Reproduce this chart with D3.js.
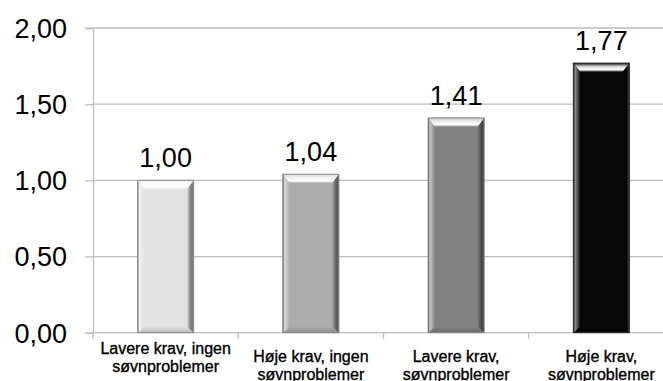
<!DOCTYPE html>
<html>
<head>
<meta charset="utf-8">
<script src="https://cdn.jsdelivr.net/npm/d3@7"></script>
<style>
  html, body { margin: 0; padding: 0; background: #fff; }
  svg { display: block; }
</style>
</head>
<body>
<script>
// ---- data ----
const categories = [
  ["Lavere krav, ingen", "søvnproblemer"],
  ["Høje krav, ingen", "søvnproblemer"],
  ["Lavere krav,", "søvnproblemer"],
  ["Høje krav,", "søvnproblemer"]
];
const values = [1.00, 1.04, 1.41, 1.77];
const yTicks = [0, 0.5, 1.0, 1.5, 2.0];

// ---- styles ----
const faceColors = ["#e2e2e2", "#acacac", "#828282", "#070707"];
const W = 663, H = 381;
const margin = { left: 93, top: 28, bottom: 332.7, right: 674 };
const gridColor = "#bdbdbd";

const locale = d3.formatLocale({ decimal: ",", thousands: " ", grouping: [3], currency: ["", " kr"] });
const fmt = locale.format(".2f");

const svg = d3.select("body").append("svg").attr("width", W).attr("height", H);
const defs = svg.append("defs");

const x = d3.scaleBand().domain(d3.range(categories.length))
  .range([margin.left, margin.right]).paddingInner(0.614).paddingOuter(0.307);
const y = d3.scaleLinear().domain([0, 2]).range([margin.bottom, margin.top]);

// gridlines
svg.append("g").selectAll("line").data(yTicks.filter(d => d > 0)).join("line")
  .attr("x1", margin.left).attr("x2", margin.right)
  .attr("y1", d => y(d)).attr("y2", d => y(d))
  .attr("stroke", gridColor).attr("stroke-width", 1.3);

// y axis
const yAxis = svg.append("g").attr("transform", `translate(${margin.left},0)`)
  .call(d3.axisLeft(y).tickValues(yTicks).tickFormat(fmt).tickSize(8).tickPadding(18));
yAxis.select(".domain").attr("stroke", gridColor).attr("stroke-width", 1.3);
yAxis.selectAll(".tick line").attr("stroke", gridColor).attr("stroke-width", 1.3);
yAxis.selectAll(".tick text")
  .attr("font-family", "Liberation Sans, Arial, sans-serif")
  .attr("font-size", 27).attr("fill", "#000").attr("dy", "0.35em");

// x axis line + boundary ticks
svg.append("line").attr("x1", margin.left).attr("x2", margin.right)
  .attr("y1", y(0)).attr("y2", y(0)).attr("stroke", gridColor).attr("stroke-width", 1.3);
const bounds = d3.range(categories.length + 1).map(i => margin.left + i * x.step());
svg.append("g").selectAll("line").data(bounds).join("line")
  .attr("x1", d => d).attr("x2", d => d)
  .attr("y1", y(0)).attr("y2", y(0) + 6)
  .attr("stroke", gridColor).attr("stroke-width", 1.3);

// bars with bevel
const bw = 7, bt = 9, bb = 6;
values.forEach((v, i) => {
  const face = faceColors[i];
  const light = d3.interpolateRgb(face, "#ffffff")(0.55);
  const veryLight = d3.interpolateRgb(face, "#ffffff")(0.85);
  const dark = d3.interpolateRgb(face, "#000000")(0.45);
  const bottomC = d3.interpolateRgb(face, "#000000")(0.18);
  const x0 = x(i), x1 = x(i) + x.bandwidth(), y0 = y(v), y1 = y(0);
  const g = svg.append("g");

  const gl = defs.append("linearGradient").attr("id", "gl" + i).attr("x1", 0).attr("x2", 1).attr("y1", 0).attr("y2", 0);
  gl.append("stop").attr("offset", 0).attr("stop-color", dark);
  gl.append("stop").attr("offset", 0.25).attr("stop-color", light);
  gl.append("stop").attr("offset", 1).attr("stop-color", face);
  const gr = defs.append("linearGradient").attr("id", "gr" + i).attr("x1", 0).attr("x2", 1).attr("y1", 0).attr("y2", 0);
  gr.append("stop").attr("offset", 0).attr("stop-color", face);
  gr.append("stop").attr("offset", 0.6).attr("stop-color", dark);
  gr.append("stop").attr("offset", 1).attr("stop-color", i === 3 ? "#444" : dark);
  const gt = defs.append("linearGradient").attr("id", "gt" + i).attr("x1", 0).attr("x2", 0).attr("y1", 0).attr("y2", 1);
  gt.append("stop").attr("offset", 0).attr("stop-color", i === 3 ? "#111" : light);
  gt.append("stop").attr("offset", 0.4).attr("stop-color", veryLight);
  gt.append("stop").attr("offset", 0.75).attr("stop-color", "#ffffff");
  gt.append("stop").attr("offset", 1).attr("stop-color", face);
  const gb = defs.append("linearGradient").attr("id", "gb" + i).attr("x1", 0).attr("x2", 0).attr("y1", 0).attr("y2", 1);
  gb.append("stop").attr("offset", 0).attr("stop-color", face);
  gb.append("stop").attr("offset", 1).attr("stop-color", bottomC);

  g.append("rect").attr("x", x0).attr("y", y0).attr("width", x1 - x0).attr("height", y1 - y0)
    .attr("fill", face);
  g.append("polygon").attr("points", [[x0, y1], [x1, y1], [x1 - bw, y1 - bb], [x0 + bw, y1 - bb]].join(" "))
    .attr("fill", `url(#gb${i})`);
  g.append("polygon").attr("points", [[x0, y0], [x0 + bw, y0 + bt], [x0 + bw, y1 - bb], [x0, y1]].join(" "))
    .attr("fill", `url(#gl${i})`);
  g.append("polygon").attr("points", [[x1, y0], [x1 - bw, y0 + bt], [x1 - bw, y1 - bb], [x1, y1]].join(" "))
    .attr("fill", `url(#gr${i})`);
  g.append("polygon").attr("points", [[x0, y0], [x1, y0], [x1 - bw, y0 + bt], [x0 + bw, y0 + bt]].join(" "))
    .attr("fill", `url(#gt${i})`);
  g.append("rect").attr("x", x0).attr("y", y0).attr("width", x1 - x0).attr("height", y1 - y0)
    .attr("fill", "none").attr("stroke", i === 3 ? "#333" : "#8a8a8a").attr("stroke-width", 1);
});

// value labels
svg.append("g").selectAll("text").data(values).join("text")
  .attr("x", (d, i) => x(i) + x.bandwidth() / 2)
  .attr("y", d => y(d) - 13)
  .attr("text-anchor", "middle")
  .attr("font-family", "Liberation Sans, Arial, sans-serif")
  .attr("font-size", 27).attr("fill", "#000")
  .text(d => fmt(d));

// category labels
const cl = svg.append("g").selectAll("text").data(categories).join("text")
  .attr("text-anchor", "middle")
  .attr("font-family", "Liberation Sans, Arial, sans-serif")
  .attr("font-size", 16).attr("fill", "#000")
  .attr("stroke", "#000").attr("stroke-width", 0.35)
  .attr("transform", (d, i) => `translate(${x(i) + x.bandwidth() / 2},${i === 0 ? 354 : 362})`);
cl.selectAll("tspan").data(d => d).join("tspan")
  .attr("x", 0).attr("dy", (d, j) => j === 0 ? 0 : 17.5)
  .text(d => d);
</script>
</body>
</html>
